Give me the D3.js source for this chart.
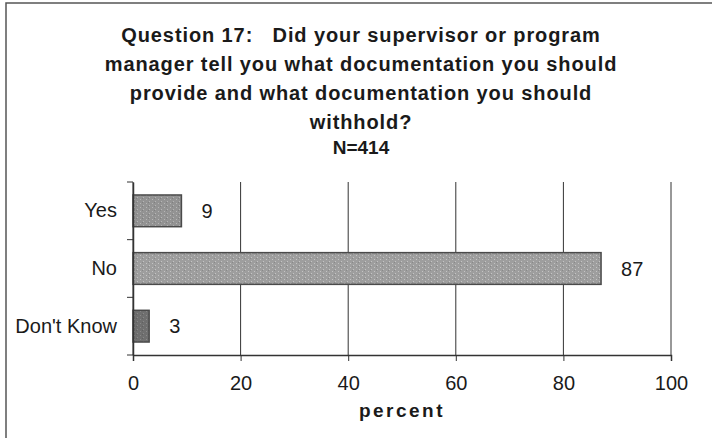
<!DOCTYPE html>
<html>
<head>
<meta charset="utf-8">
<script src="https://cdn.jsdelivr.net/npm/d3@7"></script>
<style>
  body { margin: 0; background: #fff; }
  text { font-family: "Liberation Sans", Arial, sans-serif; fill: #1a1a1a; }
</style>
</head>
<body>
<div id="chart"></div>
<script>
var svgWidth = 712;
var svgHeight = 438;

var margin = {top: 182, right: 41, bottom: 83, left: 133};

var width = svgWidth - margin.left - margin.right;
var height = svgHeight - margin.top - margin.bottom;

// chart data
var categories = ["Yes", "No", "Don't Know"];
var percents = [9, 87, 3];
var barColors = ["#939393", "#9e9e9e", "#6f6f6f"];
var xTicks = [0, 20, 40, 60, 80, 100];
var titleLines = [
  "Question 17:   Did your supervisor or program",
  "manager tell you what documentation you should",
  "provide and what documentation you should",
  "withhold?"
];
var sampleLabel = "N=414";
var xLabel = "percent";

var svg = d3.select("#chart")
  .append("svg")
  .attr("width", svgWidth)
  .attr("height", svgHeight);

// speckled fill, like the scanned bars
var defs = svg.append("defs");
barColors.forEach(function(c, i) {
  var pat = defs.append("pattern")
    .attr("id", "tex" + i)
    .attr("width", 6)
    .attr("height", 4)
    .attr("patternUnits", "userSpaceOnUse");
  pat.append("rect").attr("width", 6).attr("height", 4).attr("fill", c);
  pat.append("rect").attr("x", 1).attr("y", 1).attr("width", 1).attr("height", 1)
    .attr("fill", d3.color(c).brighter(0.6));
  pat.append("rect").attr("x", 4).attr("y", 3).attr("width", 1).attr("height", 1)
    .attr("fill", d3.color(c).brighter(0.6));
  pat.append("rect").attr("x", 3).attr("y", 0).attr("width", 1).attr("height", 1)
    .attr("fill", d3.color(c).darker(0.4));
});

// outer frame (top and left edges only show)
svg.append("path")
  .attr("d", `M6,${svgHeight} V3 H${svgWidth}`)
  .attr("fill", "none")
  .attr("stroke", "#555")
  .attr("stroke-width", 1.5);

// title
var titleGroup = svg.append("g")
  .attr("transform", "translate(361, 0)");

titleGroup.selectAll("text.title")
  .data(titleLines)
  .enter()
  .append("text")
  .attr("class", "title")
  .attr("x", 0)
  .attr("y", (d, i) => 42 + i * 29)
  .attr("text-anchor", "middle")
  .attr("font-size", 20)
  .attr("font-weight", "bold")
  .attr("letter-spacing", 0.9)
  .style("white-space", "pre")
  .text(d => d);

titleGroup.append("text")
  .attr("x", 0)
  .attr("y", 154)
  .attr("text-anchor", "middle")
  .attr("font-size", 19)
  .attr("font-weight", "bold")
  .text(sampleLabel);

var chartGroup = svg.append("g")
  .attr("transform", `translate(${margin.left}, ${margin.top})`);

var xLinearScale = d3.scaleLinear()
  .domain([0, 100])
  .range([0, width]);

var yBandScale = d3.scaleBand()
  .domain(categories)
  .range([0, height]);

// vertical gridlines
chartGroup.selectAll("line.grid")
  .data(xTicks)
  .enter()
  .append("line")
  .attr("class", "grid")
  .attr("x1", d => xLinearScale(d))
  .attr("x2", d => xLinearScale(d))
  .attr("y1", 0)
  .attr("y2", height)
  .attr("stroke", "#333")
  .attr("stroke-width", 1);

// bars
var barHeight = yBandScale.bandwidth() * 0.55;

chartGroup.selectAll("rect.bar")
  .data(categories)
  .enter()
  .append("rect")
  .attr("class", "bar")
  .attr("x", xLinearScale(0))
  .attr("y", d => yBandScale(d) + (yBandScale.bandwidth() - barHeight) / 2)
  .attr("width", (d, i) => xLinearScale(percents[i]) - xLinearScale(0))
  .attr("height", barHeight)
  .attr("fill", (d, i) => `url(#tex${i})`)
  .attr("stroke", "#4a4a4a")
  .attr("stroke-width", 1.5);

// value labels
chartGroup.selectAll("text.value")
  .data(categories)
  .enter()
  .append("text")
  .attr("class", "value")
  .attr("x", (d, i) => xLinearScale(percents[i]) + 20)
  .attr("y", d => yBandScale(d) + yBandScale.bandwidth() / 2)
  .attr("dy", "0.36em")
  .attr("font-size", 20)
  .text((d, i) => percents[i]);

// x axis
var bottomAxis = d3.axisBottom(xLinearScale)
  .tickValues(xTicks)
  .tickSize(6)
  .tickPadding(15);

var xAxis = chartGroup.append("g")
  .attr("transform", `translate(0, ${height})`)
  .call(bottomAxis);

xAxis.select(".domain").attr("stroke", "#333").attr("stroke-width", 1.5);
xAxis.selectAll(".tick line").attr("stroke", "#333");
xAxis.selectAll(".tick text")
  .attr("font-size", 20)
  .attr("font-family", "Liberation Sans, Arial, sans-serif")
  .attr("fill", "#1a1a1a");

// y axis: labels in the middle of each band, tick marks between bands
var leftAxis = d3.axisLeft(yBandScale)
  .tickSize(0)
  .tickPadding(16);

var yAxis = chartGroup.append("g")
  .call(leftAxis);

yAxis.select(".domain").attr("stroke", "#333").attr("stroke-width", 1.5);
yAxis.selectAll(".tick text")
  .attr("font-size", 20)
  .attr("font-family", "Liberation Sans, Arial, sans-serif")
  .attr("fill", "#1a1a1a");

var bandEdges = categories.map(d => yBandScale(d)).concat([height]);

chartGroup.selectAll("line.ytick")
  .data(bandEdges)
  .enter()
  .append("line")
  .attr("class", "ytick")
  .attr("x1", -6)
  .attr("x2", 0)
  .attr("y1", d => d)
  .attr("y2", d => d)
  .attr("stroke", "#333");

// x axis title
chartGroup.append("text")
  .attr("x", xLinearScale(50))
  .attr("y", height + 62)
  .attr("text-anchor", "middle")
  .attr("font-size", 19)
  .attr("font-weight", "bold")
  .attr("letter-spacing", 2.5)
  .text(xLabel);
</script>
</body>
</html>
